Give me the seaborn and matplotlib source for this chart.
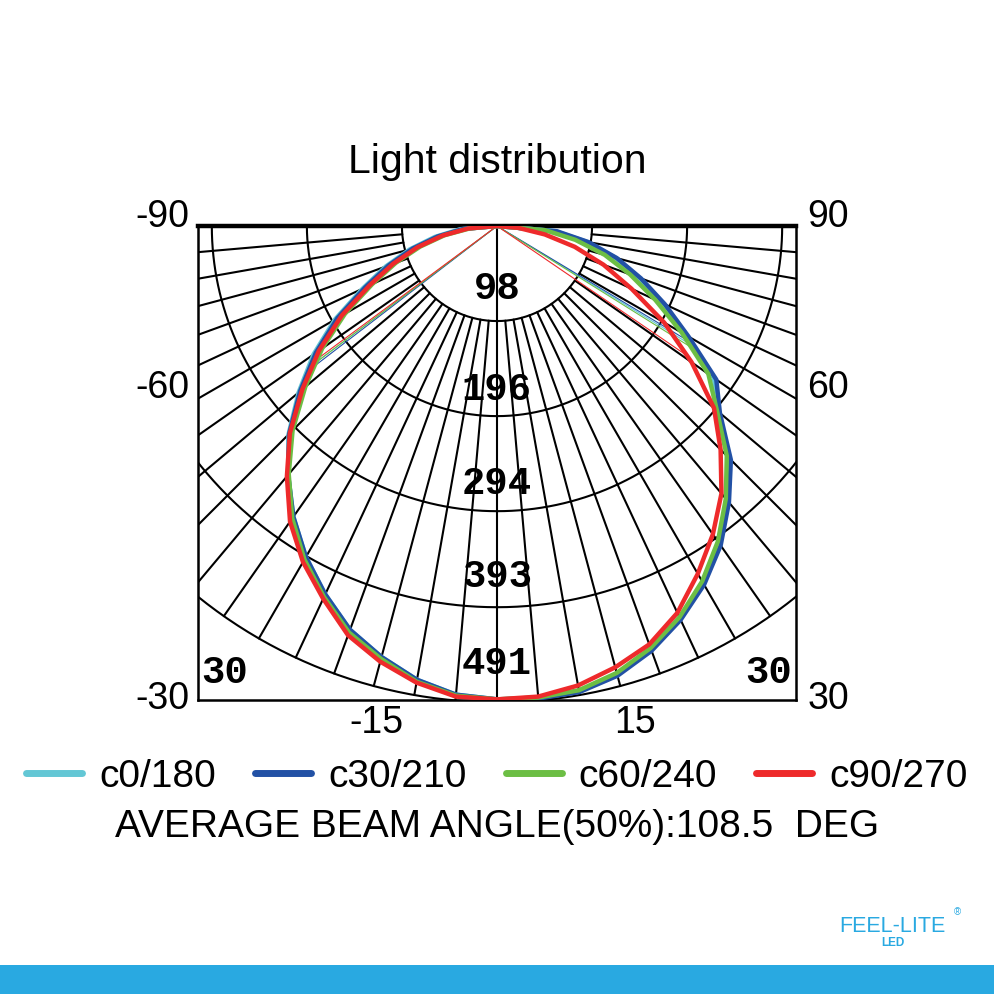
import numpy as np
import pandas as pd
import matplotlib
matplotlib.use("Agg")
import matplotlib.pyplot as plt
import seaborn as sns
from matplotlib.lines import Line2D
from matplotlib.patches import Rectangle

# gamma angles (deg from nadir), negative = left half of the C-plane
angles = [-90, -85, -80, -75, -70, -65, -60, -55, -50, -45, -40, -35, -30, -25, -20, -15, -10, -5,
          0, 5, 10, 15, 20, 25, 30, 35, 40, 45, 50, 55, 60, 65, 70, 75, 80, 85, 90]

# intensities (cd)
c0_180 = [0, 38, 65, 93, 122, 153, 193, 231, 267, 304, 335, 366, 394, 419, 443, 460, 475, 485,
          488, 488, 487, 479, 465, 447, 425, 400, 370, 339, 298, 273, 226, 189, 156, 126, 94, 60, 0]
c30_210 = [0, 35, 62, 90, 119, 150, 190, 228, 265, 303, 335, 366, 394, 419, 443, 460, 475, 485,
           488, 489, 488, 480, 466, 448, 427, 402, 372, 341, 300, 276, 228, 191, 158, 128, 96, 62, 0]
c60_240 = [0, 28, 55, 82, 111, 142, 181, 220, 258, 298, 334, 368, 397, 422, 446, 462, 477, 486,
           488, 488, 486, 477, 463, 445, 423, 397, 367, 335, 296, 266, 220, 180, 146, 115, 82, 50, 0]
c90_270 = [0, 30, 57, 85, 114, 145, 185, 224, 262, 302, 337, 372, 400, 424, 449, 465, 478, 487,
           488, 487, 481, 471, 459, 440, 414, 388, 360, 326, 292, 245, 199, 153, 117, 83, 50, 22, 0]

series_names = ["c0/180", "c30/210", "c60/240", "c90/270"]
series_vals = [c0_180, c30_210, c60_240, c90_270]
series_colors = ["#63C7D5", "#2251A5", "#6CBE44", "#EE2A2B"]

# 50% beam edge angles for each curve (left, right)
beam_left = [-53.0, -52.5, -53.0, -53.5]
beam_right = [58.5, 59.0, 58.0, 55.7]

ring_values = [98, 196, 294, 393, 491]
left_labels = ["-90", "-60", "-30"]
right_labels = ["90", "60", "30"]
bottom_labels = ["-15", "15"]

SCALE = 0.970  # px per cd on the 994px canvas

sns.set_style("white")
plt.rcParams["font.family"] = ["Liberation Sans", "DejaVu Sans"]
plt.rcParams["text.color"] = "black"

fig = plt.figure(figsize=(9.94, 9.94), dpi=100)
ax = fig.add_axes([198 / 994, 1 - 700 / 994, 598 / 994, 474 / 994])
ax.set_xlim(-299 / SCALE, 299 / SCALE)
ax.set_ylim(-474 / SCALE, 0)

# polar grid: rings + spokes
t = np.radians(np.linspace(-90, 90, 361))
for rv in ring_values:
    ax.plot(rv * np.sin(t), -rv * np.cos(t), color="black", lw=1.5, zorder=1)
for a in range(-85, 90, 5):
    ar = np.radians(a)
    r0 = 0 if a == 0 else ring_values[0]
    r1 = ring_values[-1]
    ax.plot([r0 * np.sin(ar), r1 * np.sin(ar)], [-r0 * np.cos(ar), -r1 * np.cos(ar)],
            color="black", lw=1.5, zorder=1)

# curves
frames = []
for name, vals in zip(series_names, series_vals):
    th = np.radians(angles)
    r = np.array(vals, dtype=float)
    frames.append(pd.DataFrame({"x": r * np.sin(th), "y": -r * np.cos(th), "curve": name}))
df = pd.concat(frames, ignore_index=True)
sns.lineplot(data=df, x="x", y="y", hue="curve", palette=dict(zip(series_names, series_colors)),
             estimator=None, sort=False, lw=3.2, legend=False, ax=ax, zorder=3)

# beam angle lines
for vals, col, bl, br in zip(series_vals, series_colors, beam_left, beam_right):
    for b in (bl, br):
        rb = np.interp(b, angles, vals)
        br_ = np.radians(b)
        ax.plot([0, rb * np.sin(br_)], [0, -rb * np.cos(br_)], color=col, lw=0.8, zorder=2)

# ring labels
mono = {"family": ["Liberation Mono", "DejaVu Sans Mono"], "weight": "bold", "size": 28}
label_r = [65, 169, 266, 362, 452]
for rv, lr in zip(ring_values, label_r):
    ax.text(0, -lr, str(rv), ha="center", va="center", zorder=4, **mono)
ax.text(-281, -461, "30", ha="center", va="center", **mono)
ax.text(280, -461, "30", ha="center", va="center", **mono)

# outside labels
lab = {"size": 27, "color": "black"}
for txt, yy in zip(left_labels, [9, -167, -488]):
    ax.text(-317, yy, txt, ha="right", va="center", clip_on=False, **lab)
for txt, yy in zip(right_labels, [9, -167, -488]):
    ax.text(320, yy, txt, ha="left", va="center", clip_on=False, **lab)
for txt, xx in zip(bottom_labels, [-124, 142]):
    ax.text(xx, -512, txt, ha="center", va="center", clip_on=False, **lab)

ax.set_xticks([])
ax.set_yticks([])
ax.set_xlabel("")
ax.set_ylabel("")
for s in ["left", "right", "bottom"]:
    ax.spines[s].set_linewidth(1.8)
    ax.spines[s].set_color("black")
ax.spines["top"].set_linewidth(3.2)
ax.spines["top"].set_color("black")

fig.text(0.5, 1 - 162 / 994, "Light distribution", ha="center", va="center", fontsize=29.5,
         color="black")

handles = [Line2D([], [], color=c, lw=5, solid_capstyle="round") for c in series_colors]
fig.legend(handles, series_names, loc="center", bbox_to_anchor=(0.5, 1 - 777 / 994), ncol=4,
           frameon=False, handlelength=1.44, handletextpad=0.44, columnspacing=1.0,
           prop={"family": "Liberation Sans", "size": 28}, labelcolor="black")
fig.text(0.5, 1 - 827 / 994, "AVERAGE BEAM ANGLE(50%):108.5  DEG", ha="center", va="center",
         fontsize=28, color="black")

# footer bar and logo
fig.patches.append(Rectangle((0, 0), 1, 29 / 994, transform=fig.transFigure,
                             facecolor="#29A9E1", edgecolor="none"))
fig.text(892 / 994, 1 - 926 / 994, "FEEL-LITE", ha="center", va="center", fontsize=15.5,
         color="#29A9E1")
fig.text(893 / 994, 1 - 943 / 994, "LED", ha="center", va="center", fontsize=8.5,
         color="#29A9E1", weight="bold")
fig.text(957 / 994, 1 - 912 / 994, "®", ha="center", va="center", fontsize=7, color="#29A9E1")

fig.savefig("out.png", dpi=100)
